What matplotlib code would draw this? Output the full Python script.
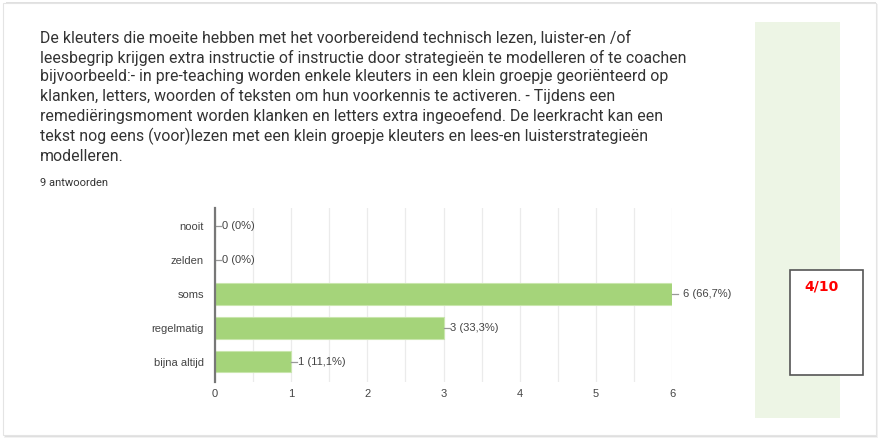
import matplotlib
matplotlib.use("Agg")
import matplotlib.pyplot as plt
from matplotlib.patches import Rectangle

question = ("De kleuters die moeite hebben met het voorbereidend technisch lezen, luister-en /of\n"
            "leesbegrip krijgen extra instructie of instructie door strategieën te modelleren of te coachen\n"
            "bijvoorbeeld:- in pre-teaching worden enkele kleuters in een klein groepje georiënteerd op\n"
            "klanken, letters, woorden of teksten om hun voorkennis te activeren. - Tijdens een\n"
            "remediëringsmoment worden klanken en letters extra ingeoefend. De leerkracht kan een\n"
            "tekst nog eens (voor)lezen met een klein groepje kleuters en lees-en luisterstrategieën\n"
            "modelleren.")
responses = "9 antwoorden"
categories = ["nooit", "zelden", "soms", "regelmatig", "bijna altijd"]
counts = [0, 0, 6, 3, 1]
labels = ["0 (0%)", "0 (0%)", "6 (66,7%)", "3 (33,3%)", "1 (11,1%)"]
score = "4/10"

W, H = 884, 441
fig = plt.figure(figsize=(W / 100, H / 100), dpi=100)
fig.patch.set_facecolor("white")

def fx(px):
    return px / W

def fy(py):
    return 1 - py / H

# card with soft shadow
for i, a in enumerate([0.05, 0.08, 0.12]):
    fig.patches.append(Rectangle((fx(4 + i), fy(438 - i)), fx(874 - 2 * i), 434 / H,
                                 transform=fig.transFigure, facecolor="#000000", alpha=a,
                                 edgecolor="none", zorder=0))
fig.patches.append(Rectangle((fx(3), fy(435)), fx(873), 432 / H, transform=fig.transFigure,
                             facecolor="white", edgecolor="#e4e4e4", linewidth=0.8, zorder=1))

# green side panel
fig.patches.append(Rectangle((fx(755), fy(418)), fx(85), 396 / H, transform=fig.transFigure,
                             facecolor="#edf5e5", edgecolor="none", zorder=2))

# score box
fig.patches.append(Rectangle((fx(790), fy(375)), fx(73), 105 / H, transform=fig.transFigure,
                             facecolor="white", edgecolor="#555555", linewidth=1.2, zorder=3))
fig.text(fx(804), fy(287), score, color="#ff0000", fontsize=10, fontweight="bold",
         family="DejaVu Sans", va="center", ha="left", zorder=4)

fig.text(fx(40), fy(31), question, fontsize=11.4, family="Roboto", color="#333333",
         va="top", ha="left", linespacing=1.29, zorder=4)
fig.text(fx(40), fy(183), responses, fontsize=8, family="Roboto", color="#333333",
         va="center", ha="left", zorder=4)

ax = fig.add_axes([fx(215), fy(382), fx(672 - 215), (382 - 208) / H])
ax.set_zorder(5)
ax.patch.set_alpha(0)
ypos = list(range(len(categories)))
ax.barh(ypos, counts, height=0.62, color="#a5d47a", edgecolor="#c9e6ad", linewidth=0.8, zorder=3)
ax.set_xlim(0, 6)
ax.set_ylim(4.59, -0.53)
ax.set_yticks(ypos)
ax.set_yticklabels(categories)
ax.set_xticks(range(7))
ax.set_xticks([i + 0.5 for i in range(6)], minor=True)
ax.grid(axis="x", which="both", color="#ebebeb", linewidth=0.9, zorder=0)
ax.tick_params(axis="both", which="both", length=0, labelsize=8, labelcolor="#444444")
ax.tick_params(axis="y", pad=8)
ax.tick_params(axis="x", pad=5)
for lab in ax.get_xticklabels() + ax.get_yticklabels():
    lab.set_family("Liberation Sans")
for s in ["top", "right", "bottom"]:
    ax.spines[s].set_visible(False)
ax.spines["left"].set_color("#777777")
ax.spines["left"].set_linewidth(1.6)
ax.spines["left"].set_zorder(4)

# value labels with short leader lines
for y, c, t in zip(ypos, counts, labels):
    ax.plot([c, c + 0.08], [y, y], color="#999999", linewidth=0.9, zorder=4, clip_on=False)
    ax.text(c + 0.09 if c < 6 else c + 0.14, y, t, fontsize=8, family="Liberation Sans",
            color="#444444", va="center", ha="left", clip_on=False)

fig.savefig("out.png", dpi=100)
